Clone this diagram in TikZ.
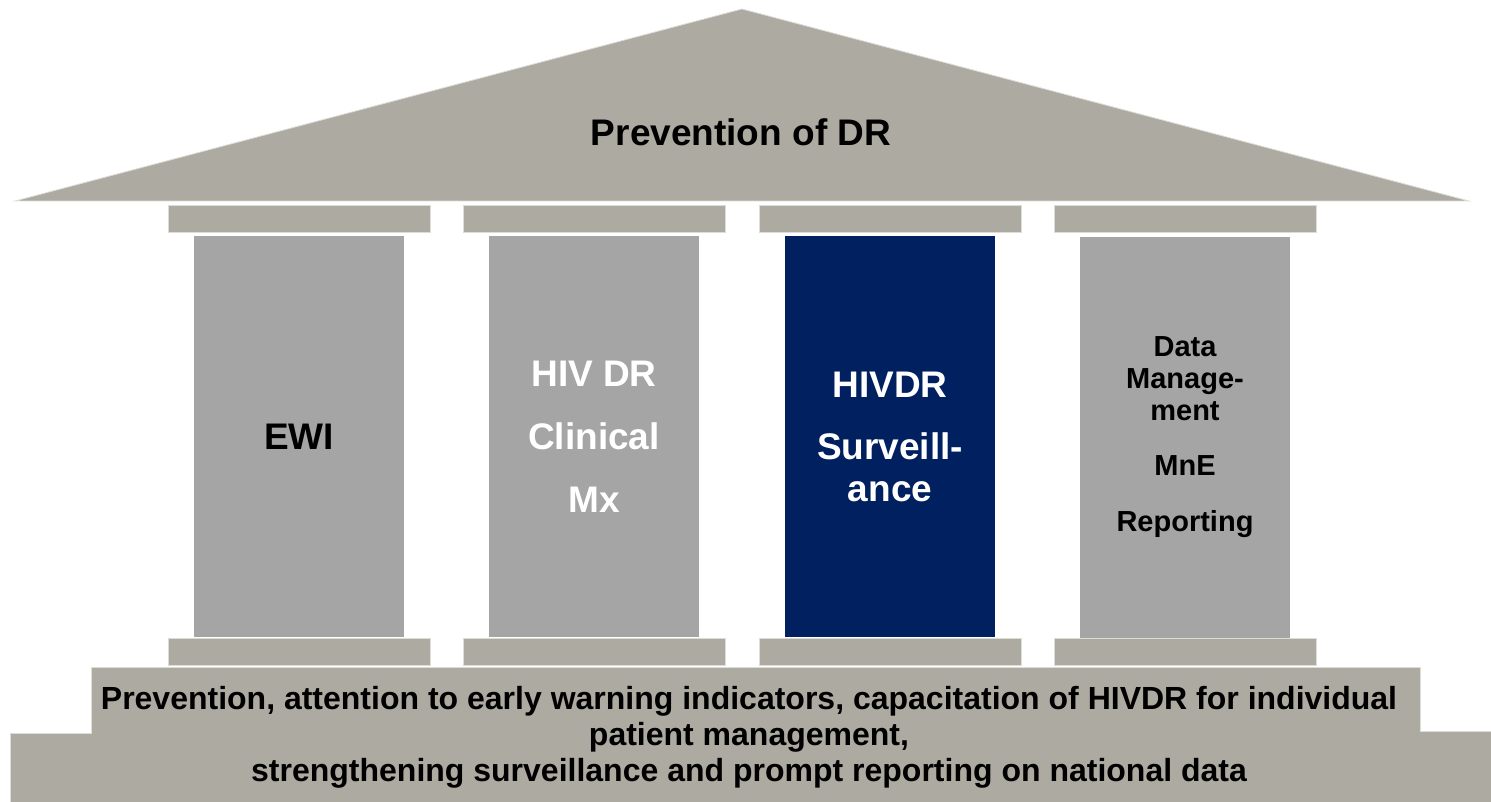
\documentclass[tikz,border=0pt]{standalone}
\usepackage{fontspec}
\setmainfont{Liberation Sans}
\definecolor{taupe}{RGB}{173,170,162}
\definecolor{colgray}{RGB}{165,165,165}
\definecolor{navy}{RGB}{0,32,96}
\definecolor{edge}{RGB}{222,220,214}
\tikzset{
  stone/.style={fill=taupe, draw=edge, line width=0.8pt},
  capbox/.style={stone, rectangle, minimum width=262pt, minimum height=27pt, inner sep=0pt},
  colbox/.style={rectangle, fill=colgray, minimum width=210pt, minimum height=401pt, inner sep=0pt, align=center, font=\bfseries\fontsize{37}{42}\selectfont},
  bigtext/.style={font=\bfseries\fontsize{37}{42}\selectfont, align=center, inner sep=0pt},
  basetext/.style={font=\bfseries\fontsize{32}{36}\selectfont, align=center, inner sep=0pt}
}
\begin{document}
\begin{tikzpicture}[x=1pt,y=-1pt]
\useasboundingbox (0,0) rectangle (1491,802);
% roof
\path[stone] (15,201) -- (742,9) -- (1469,201) -- cycle;
\node[bigtext] (roof) at (741,132) {Prevention of DR};
% capitals
\node[capbox] (cap1) at (299,218.5) {};
\node[capbox] (cap2) at (594,218.5) {};
\node[capbox] (cap3) at (890,218.5) {};
\node[capbox] (cap4) at (1185,218.5) {};
% columns
\node[colbox] (c1) at (299,436.5) {EWI};
\node[colbox, text=white] (c2) at (594,436.5) {HIV DR\\[21pt]Clinical\\[21pt]Mx};
\node[colbox, fill=navy, text=white] (c3) at (890,436.5) {HIVDR\\[20pt]Surveill-\\ance};
\node[colbox, font=\bfseries\fontsize{29}{32}\selectfont] (c4) at (1185,437.5) {Data\\Manage-\\ment\\[23pt]MnE\\[24pt]Reporting};
% plinths
\node[capbox] (pl1) at (299,651.5) {};
\node[capbox] (pl2) at (594,651.5) {};
\node[capbox] (pl3) at (890,651.5) {};
\node[capbox] (pl4) at (1185,651.5) {};
% base
\path[stone] (91,667) -- (1420,667) -- (1420,731) -- (1491,731) -- (1491,803) -- (10,803) -- (10,733) -- (91,733) -- cycle;
\node[basetext] (base) at (749,737) {Prevention, attention to early warning indicators, capacitation of HIVDR for individual\\patient management,\\strengthening surveillance and prompt reporting on national data};
\end{tikzpicture}
\end{document}
